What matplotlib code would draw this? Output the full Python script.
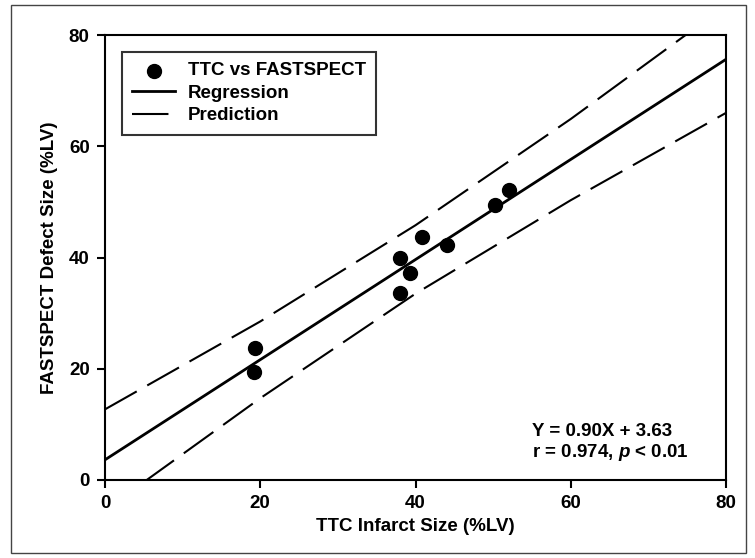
import matplotlib
matplotlib.use('Agg')
import matplotlib.pyplot as plt
from matplotlib.patches import Rectangle

plt.rcParams['font.family'] = 'Liberation Sans'
plt.rcParams['font.weight'] = 'bold'
plt.rcParams['mathtext.fontset'] = 'custom'
plt.rcParams['mathtext.it'] = 'Liberation Sans:italic:bold'

# TTC vs FASTSPECT points (%LV)
ttc = [19.2, 19.3, 38.0, 38.0, 39.3, 40.8, 44.0, 50.3, 52.0]
fastspect = [19.5, 23.7, 33.6, 40.0, 37.2, 43.6, 42.2, 49.4, 52.2]

# regression from the equation on the chart
slope, intercept = 0.90, 3.63
reg_x = [0, 80]

# prediction band
band_x = [0, 20, 40, 60, 80]
band_upper = [12.7, 28.5, 45.8, 64.9, 85.3]
band_lower = [-5.4, 14.7, 33.5, 50.3, 66.0]

ticks = [0, 20, 40, 60, 80]

fig = plt.figure(figsize=(7.55, 5.58), dpi=100)
ax = fig.add_axes([105/755, 1-480/558, 621/755, 445/558])

# outer frame
fig.patches.append(Rectangle((11/755, 1-553/558), 735/755, 548/558,
                             transform=fig.transFigure, fill=False,
                             edgecolor='#444444', linewidth=1.0))

ax.scatter(ttc, fastspect, s=100, color='black', zorder=3,
           label='TTC vs FASTSPECT')
ax.plot(reg_x, [slope*x + intercept for x in reg_x], color='black', lw=2.0,
        label='Regression')
ax.plot(band_x, band_upper, color='black', lw=1.5, dashes=(17.5, 5.8),
        label='Prediction')
ax.plot(band_x, band_lower, color='black', lw=1.5, dashes=(17.5, 5.8))

ax.set_xlim(0, 80)
ax.set_ylim(0, 80)
ax.set_xticks(ticks)
ax.set_yticks(ticks)
ax.tick_params(direction='out', length=6, width=1.5, labelsize=13.5, pad=5)
for sp in ax.spines.values():
    sp.set_linewidth(1.5)

ax.set_xlabel('TTC Infarct Size (%LV)', fontsize=13.5, fontweight='bold', labelpad=4)
ax.set_ylabel('FASTSPECT Defect Size (%LV)', fontsize=13.5, fontweight='bold', labelpad=8)

leg = ax.legend(loc='upper left', bbox_to_anchor=(17/621, 1-17/445),
                borderaxespad=0, frameon=True, fancybox=False,
                edgecolor='black', fontsize=13.5, handlelength=2.3,
                handletextpad=0.65, labelspacing=0.28, borderpad=0.55)
leg.get_frame().set_linewidth(1.5)

ax.text(0.688, 0.108, 'Y = 0.90X + 3.63', transform=ax.transAxes,
        fontsize=13.5, fontweight='bold', va='center', ha='left')
ax.text(0.688, 0.062, r'r = 0.974, $p$ < 0.01', transform=ax.transAxes,
        fontsize=13.5, fontweight='bold', va='center', ha='left')

fig.savefig('out.png', dpi=100)
